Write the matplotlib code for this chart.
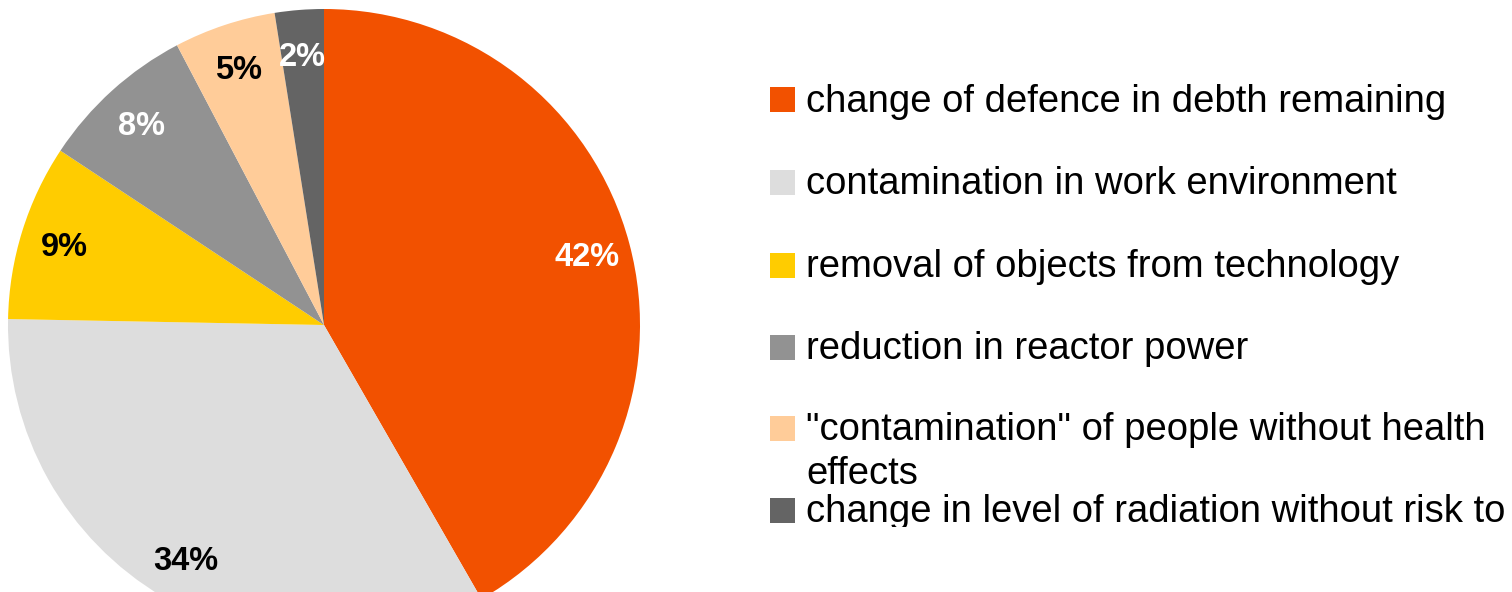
import matplotlib
matplotlib.use("Agg")
import matplotlib.pyplot as plt
from matplotlib.patches import Rectangle

categories = [
    "change of defence in debth remaining",
    "contamination in work environment",
    "removal of objects from technology",
    "reduction in reactor power",
    "\"contamination\" of people without health\neffects",
    "change in level of radiation without risk to",
]
values = [41.7, 33.6, 9.0, 8.0, 5.2, 2.5]
colors = ["#F25100", "#DDDDDD", "#FFCC00", "#929292", "#FFCC99", "#646464"]
label_colors = ["white", "black", "black", "white", "black", "white"]

plt.rcParams['font.family'] = ['Liberation Sans', 'DejaVu Sans']

W, H = 1512, 592
fig = plt.figure(figsize=(W / 100, H / 100), dpi=100)
ax = fig.add_axes([0, 0, 1, 1])

cx, cy, r = 324.0, H - 325.0, 316.0
wedges, texts, autotexts = ax.pie(
    values, colors=colors, startangle=90, counterclock=False,
    center=(cx, cy), radius=r,
    autopct=lambda p: f"{round(p):d}%", pctdistance=0.86,
    textprops=dict(fontsize=23.5, fontweight='bold'),
    wedgeprops=dict(linewidth=0))
for t, c in zip(autotexts, label_colors):
    t.set_color(c)
    x0, y0 = t.get_position()
    t.set_position((x0, y0 - 3))
ax.set_xlim(0, W)
ax.set_ylim(0, H)
ax.set_aspect('equal')
ax.axis('off')

# legend, clipped at the bottom like the reference
lax = fig.add_axes([760 / W, (H - 527) / H, (W - 760) / W, 527 / H])
lax.set_xlim(760, W)
lax.set_ylim(H - 527, H)
lax.axis('off')
ycenters = [99.5, 182, 265, 347, 428.5, 510.5]
line_step = 43
for cat, col, yc in zip(categories, colors, ycenters):
    y = H - yc
    lax.add_patch(Rectangle((770, y - 12.5), 25, 25, facecolor=col,
                            edgecolor='none', clip_on=True))
    nlines = cat.count("\n")
    lax.text(806, y - 12 - line_step * nlines, cat, fontsize=27.5,
             va='baseline', ha='left', color='black', clip_on=True,
             linespacing=1.25)

fig.savefig("out.png", dpi=100)
